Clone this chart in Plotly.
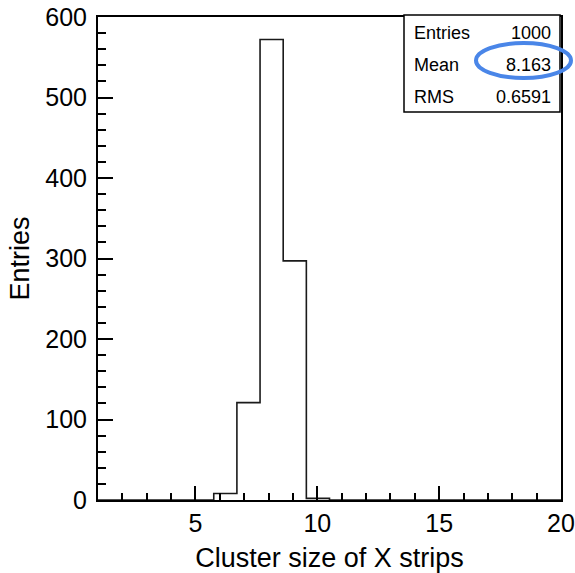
import plotly.graph_objects as go

# Histogram: 20 bins from 1 to 20
x_min = 1.0
x_max = 20.0
n_bins = 20
counts = [0, 0, 0, 0, 0, 8, 121, 572, 297, 2, 0, 0, 0, 0, 0, 0, 0, 0, 0, 0]

stat_labels = ["Entries", "Mean", "RMS"]
stat_values = ["1000", "8.163", "0.6591"]

x_ticks = [5, 10, 15, 20]
y_ticks = [0, 100, 200, 300, 400, 500, 600]

bw = (x_max - x_min) / n_bins
edges = [x_min + i * bw for i in range(n_bins + 1)]
xs = [edges[0]] + edges[:-1] + [edges[-1]]
ys = [0] + counts + [0]

FONT = "Liberation Sans, Arial, Helvetica, sans-serif"

fig = go.Figure()
fig.add_trace(go.Scatter(x=xs, y=ys, mode="lines", line=dict(shape="hv", color="#1a1a1a", width=1.6),
                         hoverinfo="skip", showlegend=False))

L, R, T, B = 98, 14, 17, 73
W, H = 575, 573
pw = W - L - R
ph = H - T - B

def px(xp):
    return (xp - L) / pw

def py(yp):
    return (H - B - yp) / ph

fig.update_layout(
    width=W, height=H,
    margin=dict(l=L, r=R, t=T, b=B, autoexpand=False),
    paper_bgcolor="white", plot_bgcolor="white",
    font=dict(family=FONT, color="black", size=24),
    xaxis=dict(range=[x_min, x_max], tickvals=x_ticks, ticks="inside", ticklen=14, tickwidth=1.5,
               tickcolor="black", showline=True, linecolor="black", linewidth=2, mirror=True,
               showgrid=False, zeroline=False, tickfont=dict(size=25), automargin=False,
               minor=dict(dtick=1, ticks="inside", ticklen=7, tickwidth=1.5, tickcolor="black", showgrid=False),
               title=dict(text="Cluster size of X strips", font=dict(size=27), standoff=12)),
    yaxis=dict(range=[0, 600], tickvals=y_ticks, ticks="inside", ticklen=15, tickwidth=1.5,
               tickcolor="black", showline=True, linecolor="black", linewidth=2, mirror=True,
               showgrid=False, zeroline=False, tickfont=dict(size=25), ticklabelstandoff=4, automargin=False,
               minor=dict(dtick=20, ticks="inside", ticklen=8, tickwidth=1.5, tickcolor="black", showgrid=False),
               title=dict(text="Entries", font=dict(size=27), standoff=8)),
)

# stats box
fig.add_shape(type="rect", xref="paper", yref="paper",
              x0=px(404), x1=px(560), y0=py(112), y1=py(15),
              line=dict(color="black", width=1.5), fillcolor="white", layer="above")
row_y = [33, 65, 97]
for lab, val, yy in zip(stat_labels, stat_values, row_y):
    fig.add_annotation(xref="paper", yref="paper", x=px(412), y=py(yy), text=lab, showarrow=False,
                       xanchor="left", yanchor="middle", font=dict(size=18, family=FONT))
    fig.add_annotation(xref="paper", yref="paper", x=px(553), y=py(yy), text=val, showarrow=False,
                       xanchor="right", yanchor="middle", font=dict(size=18, family=FONT))

# highlight ellipse
fig.add_shape(type="circle", xref="paper", yref="paper",
              x0=px(476), x1=px(571), y0=py(78), y1=py(43),
              line=dict(color="#4a86e8", width=4), layer="above")

fig.write_html("out.html")
